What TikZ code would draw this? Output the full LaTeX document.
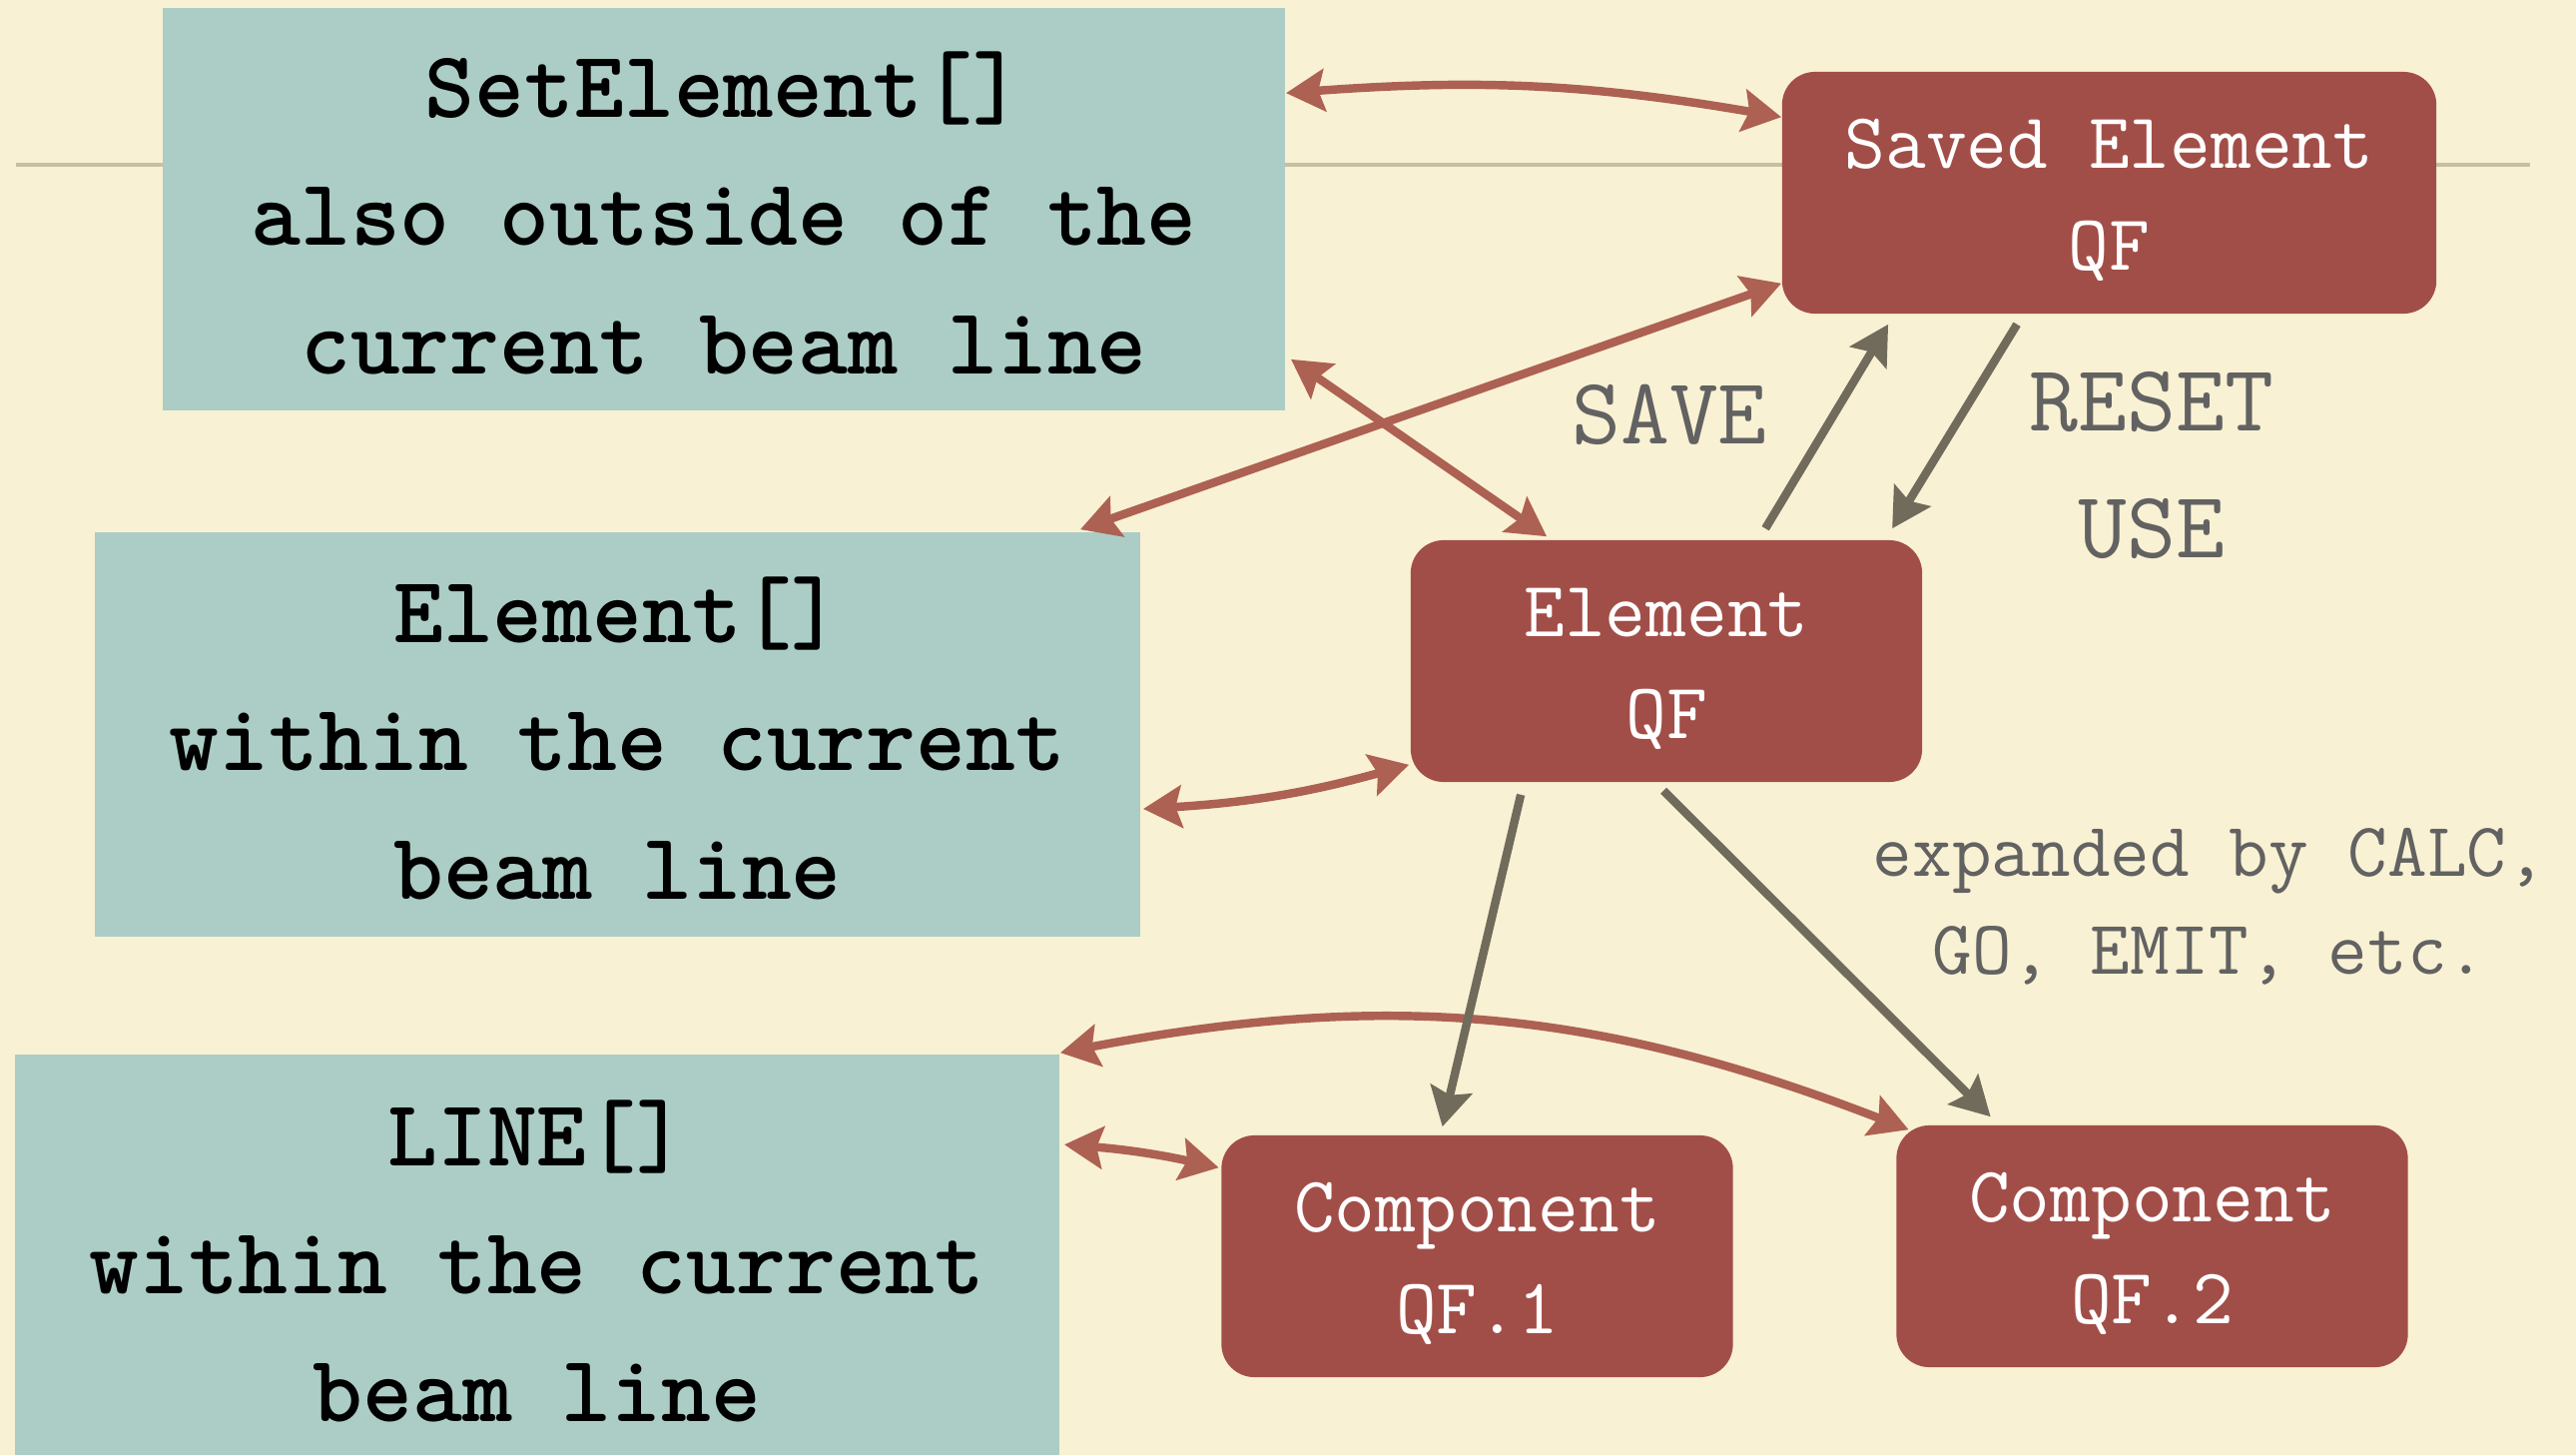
\documentclass[tikz,border=0pt]{standalone}
\usetikzlibrary{arrows.meta,calc}
\definecolor{bgc}{HTML}{F9F1D3}
\definecolor{tealc}{HTML}{ABCDC5}
\definecolor{boxred}{HTML}{A24E48}
\definecolor{arrred}{HTML}{AD6152}
\definecolor{arrgray}{HTML}{716B5B}
\definecolor{txtgray}{HTML}{626262}
\definecolor{rulec}{HTML}{C8BFA3}
\tikzset{
  tealbox/.style={fill=tealc, inner sep=0pt, align=center, text=black,
    font=\fontsize{27}{36.5}\selectfont\ttfamily\bfseries},
  redbox/.style={fill=boxred, rounded corners=9.4pt, inner sep=0pt, align=center, text=white,
    minimum width=5.12cm, minimum height=2.42cm,
    font=\fontsize{22.5}{29}\selectfont\ttfamily},
  lbl/.style={text=txtgray, align=center, inner sep=0pt},
  tipa/.tip={Stealth[length=11pt,width=12pt,inset=1.8pt]},
  biarr/.style={draw=arrred, line width=2.4pt, tipa-tipa},
  onearr/.style={draw=arrgray, line width=2.4pt, -tipa}
}
\newcommand{\tallA}{\rule{0pt}{18pt}}
\newcommand{\tallB}{\rule{0pt}{20.8pt}}
\begin{document}
\begin{tikzpicture}[x=0.01cm,y=-0.01cm]
\fill[bgc] (0,0) rectangle (2580,1457);
\useasboundingbox (0,0) rectangle (2580,1457);
\draw[rulec, line width=0.9pt] (16,165) -- (2534,165);

\node[tealbox, minimum width=11.24cm, minimum height=4.03cm] (se) at (725,209.5)
  {\tallB SetElement[]\\also outside of the\\current beam line};
\node[tealbox, minimum width=10.47cm, minimum height=4.05cm] (el) at (618.5,735.5)
  {\tallB Element[]\\within the current\\beam line};
\node[tealbox, minimum width=10.46cm, minimum height=4.14cm] (li) at (538,1263)
  {LINE[]\\within the current\\beam line};

\node[redbox, minimum width=6.55cm] (sv) at (2112.5,193) {\tallA Saved Element\\QF};
\node[redbox] (eq) at (1669,662) {\tallA Element\\QF};
\node[redbox] (c1) at (1479.5,1258) {\tallA Component\\QF.1};
\node[redbox] (c2) at (2155.5,1248) {\tallA Component\\QF.2};

\node[lbl, font=\fontsize{27}{36}\selectfont\ttfamily] (save) at (1672,415) {SAVE};
\node[lbl, font=\fontsize{27}{36}\selectfont\ttfamily] (reset) at (2155,466) {RESET\\USE};
\node[lbl, font=\fontsize{21.9}{28}\selectfont\ttfamily] (exp) at (2213,908) {expanded by CALC,\\GO, EMIT, etc.};

% red double arrows
\draw[biarr] ($(se.north east)+(0,86)$) to[bend left=7] ($(sv.north west)+(0,46)$);
\draw[biarr] ($(sv.south west)+(0,-31)$) -- ($(el.north east)+(-61,-2)$);
\draw[biarr] ($(se.south east)+(5,-52)$) -- ($(eq.north west)+(137,-3)$);
\draw[biarr] ($(el.east)+(2,74.5)$) to[bend right=6] ($(eq.south west)+(-1,-18)$);
\draw[biarr] ($(li.north east)+(0,-1)$) to[bend left=16] ($(c2.north west)+(13,5)$);
\draw[biarr] ($(li.north east)+(4,91)$) to[bend left=4] ($(c1.north west)+(-2,33)$);

% gray arrows
\draw[onearr] ($(eq.north west)+(356,-11)$) -- ($(sv.south west)+(107,10)$);
\draw[onearr] ($(sv.south west)+(236,10)$) -- ($(eq.north west)+(483,-11)$);
\draw[onearr] ($(eq.south west)+(111,12)$) -- ($(c1.north west)+(222,-8)$);
\draw[onearr] ($(eq.south west)+(254,8)$) -- ($(c2.north west)+(95,-8)$);
\end{tikzpicture}
\end{document}
